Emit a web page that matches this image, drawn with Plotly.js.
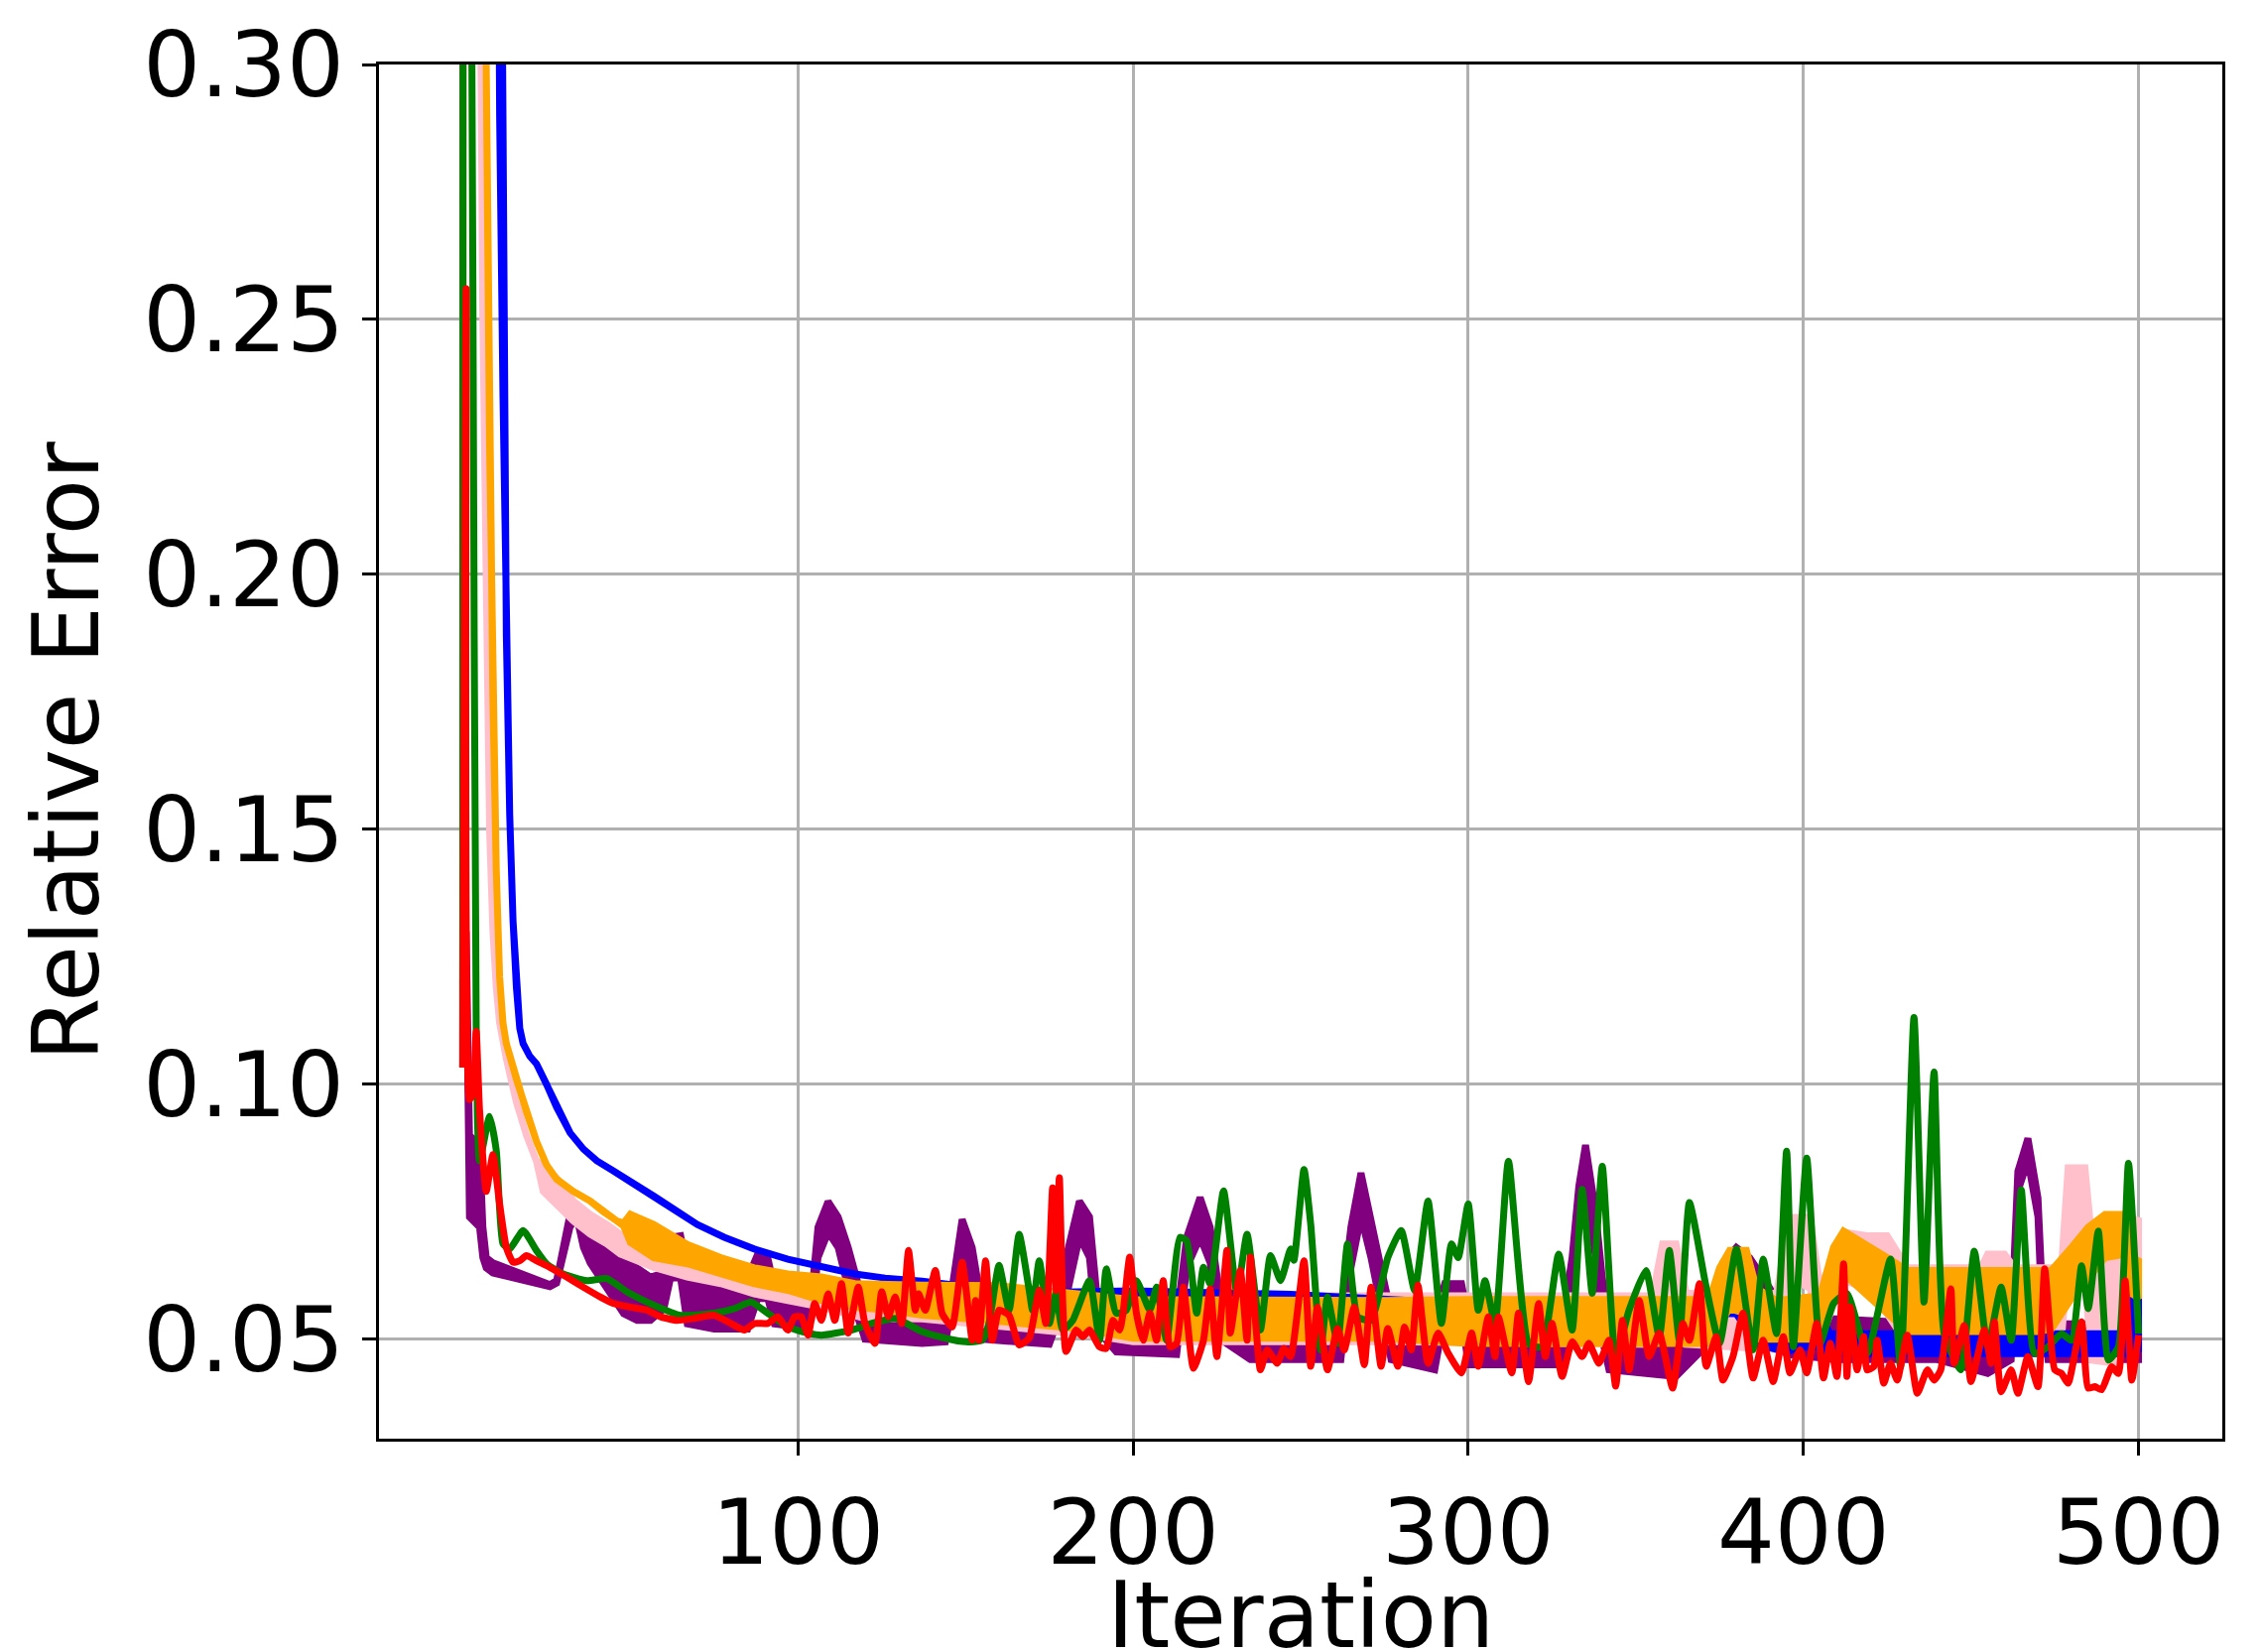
<!DOCTYPE html>
<html>
<head>
<meta charset="utf-8">
<script src="https://cdn.plot.ly/plotly-3.0.1.min.js"></script>
<style>html,body{margin:0;padding:0;background:#fff;}#chart{width:2279px;height:1665px;}</style>
</head>
<body>
<div id="chart"></div>
<script>
// ---- data (iteration, relative error) ----
// Banded series: upper / lower envelope of the per-iteration oscillation
const blueX  = [0,1,5,10,11,12,13,14,15,16,17,18,20,22,25,28,32,36,40,45,51,57,63,70,78,87,97,107,117,126,137,155,175,200,247,300,380,386,395,399,404,408,420,495,497,500];
const blueHi = [0.1033,5.0,1.0,0.36,0.29,0.235,0.188,0.153,0.132,0.119,0.111,0.108,0.1055,0.104,0.100,0.0955,0.0905,0.0873,0.085,0.083,0.0807,0.0781,0.0755,0.0725,0.070,0.0677,0.0657,0.0641,0.0628,0.062,0.0614,0.0600,0.0592,0.0595,0.0588,0.057,0.0565,0.056,0.0515,0.0557,0.0557,0.0511,0.0511,0.0511,0.0576,0.0576];
const blueLo = [0.1033,5.0,1.0,0.36,0.29,0.235,0.188,0.153,0.132,0.119,0.111,0.108,0.1055,0.104,0.100,0.0955,0.0905,0.0873,0.085,0.083,0.0807,0.0781,0.0755,0.0725,0.070,0.0677,0.0657,0.0641,0.0628,0.062,0.0614,0.0600,0.0588,0.0578,0.0575,0.0555,0.055,0.049,0.0475,0.0485,0.0485,0.0472,0.0472,0.0472,0.0472,0.048];

const orangeX  = [0,1,4,6,7,8,9,10,11,12,13,16,19,22,25,28,33,38,42,46,48,50,57,67,77,87,97,107,117,127,137,160,185,200,275,300,372,375,378,383,386,392,405,409,412,417,425,431,470,474,480,485,490,496,498,500];
const orangeHi = [0.1033,3.0,0.8,0.36,0.30,0.225,0.175,0.142,0.121,0.112,0.108,0.101,0.0946,0.0888,0.0842,0.0814,0.079,0.0771,0.075,0.0732,0.0728,0.0745,0.0725,0.0686,0.066,0.064,0.0628,0.0622,0.0609,0.0606,0.0606,0.0605,0.059,0.0578,0.0576,0.0578,0.0578,0.064,0.0674,0.0674,0.060,0.0576,0.0585,0.068,0.0712,0.0693,0.066,0.0635,0.0635,0.0635,0.068,0.072,0.0745,0.0745,0.066,0.0654];
const orangeLo = [0.1033,3.0,0.8,0.36,0.30,0.225,0.175,0.142,0.121,0.112,0.108,0.101,0.0946,0.0888,0.0842,0.0814,0.079,0.0771,0.075,0.0732,0.0722,0.069,0.066,0.0648,0.0628,0.0609,0.0596,0.0576,0.0563,0.0557,0.0547,0.0535,0.052,0.0502,0.0502,0.0492,0.0492,0.053,0.056,0.055,0.050,0.050,0.050,0.058,0.0628,0.060,0.055,0.0515,0.0515,0.052,0.058,0.062,0.066,0.0667,0.059,0.058];

const pinkX  = [0,1,4,5,6,7,8,9,10,11,13,16,19,22,24,28,33,38,43,47,57,67,77,87,97,107,120,137,160,185,200,275,355,358,362,365,392,396,402,405,412,419,425,431,453,455,460,463,477,479,484,486,493,497,500];
const pinkHi = [0.1033,3.0,0.7,0.34,0.25,0.20,0.15,0.13,0.119,0.112,0.105,0.0965,0.090,0.0849,0.0842,0.0816,0.0771,0.0745,0.0725,0.0706,0.0677,0.066,0.064,0.0628,0.0615,0.0596,0.0583,0.058,0.059,0.058,0.0585,0.0585,0.0585,0.0687,0.0687,0.059,0.059,0.0739,0.0739,0.060,0.071,0.0703,0.0703,0.064,0.064,0.0667,0.0667,0.064,0.064,0.0836,0.0836,0.070,0.070,0.070,0.0738];
const pinkLo = [0.1033,3.0,0.7,0.34,0.25,0.20,0.15,0.13,0.119,0.112,0.105,0.0965,0.090,0.0849,0.079,0.0765,0.0732,0.0706,0.0687,0.0667,0.0641,0.0622,0.0609,0.0589,0.0576,0.0563,0.0541,0.054,0.0525,0.051,0.0495,0.0495,0.049,0.058,0.056,0.049,0.048,0.062,0.060,0.050,0.0615,0.060,0.055,0.049,0.049,0.054,0.050,0.048,0.050,0.066,0.062,0.0459,0.0453,0.055,0.060];

const purpleX  = [0,1,2,5,6,7,9,15,22,26,28,30,32,34,36,38,43,48,52,56,60,62,65,67,75,85,88,91,93,100,104,106,109,112,115,118,120,137,144,146,149,152,155,175,180,184,187,189,195,213,216,220,223,226,235,262,265,268,271,274,277,290,293,298,300,328,331,333,335,338,340,342,362,373,376,380,384,390,395,410,440,455,462,464,467,470,471,473,500];
const purpleHi = [0.1033,0.13,0.09,0.088,0.072,0.066,0.065,0.0635,0.0618,0.0607,0.0615,0.068,0.0745,0.0765,0.072,0.070,0.068,0.066,0.064,0.0622,0.063,0.070,0.0703,0.064,0.0635,0.062,0.0667,0.066,0.060,0.059,0.058,0.072,0.077,0.074,0.068,0.060,0.056,0.0557,0.054,0.060,0.0735,0.068,0.056,0.055,0.066,0.0771,0.074,0.060,0.054,0.054,0.070,0.0778,0.072,0.058,0.055,0.055,0.072,0.0826,0.074,0.064,0.055,0.054,0.0609,0.0609,0.054,0.053,0.066,0.080,0.0881,0.075,0.062,0.054,0.053,0.058,0.065,0.068,0.066,0.060,0.054,0.054,0.053,0.050,0.052,0.0829,0.0894,0.0777,0.0635,0.053,0.053];
const purpleLo = [0.1033,0.13,0.074,0.072,0.066,0.064,0.063,0.062,0.061,0.0603,0.061,0.066,0.072,0.074,0.068,0.065,0.060,0.055,0.0537,0.0537,0.056,0.062,0.062,0.053,0.052,0.052,0.058,0.058,0.053,0.0524,0.054,0.066,0.071,0.068,0.060,0.054,0.050,0.0492,0.0495,0.056,0.068,0.060,0.050,0.049,0.058,0.070,0.066,0.052,0.0475,0.047,0.064,0.070,0.065,0.050,0.046,0.046,0.064,0.074,0.066,0.056,0.046,0.044,0.055,0.055,0.045,0.045,0.058,0.072,0.080,0.066,0.050,0.044,0.0427,0.050,0.058,0.062,0.058,0.052,0.047,0.046,0.046,0.0433,0.046,0.079,0.085,0.074,0.058,0.046,0.046];

// Line series
const greenX = [0,1,2,3,4,5,8,10,12,14,18,22,25,30,37,43,49,57,65,75,81,86,91,97,103,107,116,122,129,137,144,150,155,157,160,163,166,169,170,172,175,177,179,182,187,190,192,195,198,201,205,207,210,214,216,219,221,223,227,231,234,238,241,244,247,248,251,253,256,258,261,264,267,271,276,280,284,288,292,295,297,300,303,305,308,312,318,322,327,331,334,337,340,344,348,353,357,360,363,366,371,375,380,385,388,392,395,397,401,405,409,413,419,426,429,433,436,439,442,447,451,455,459,462,465,469,473,477,480,483,485,488,491,494,497,500];
const greenY = [0.1033,3.0,0.42,0.26,0.112,0.085,0.0937,0.087,0.0687,0.0677,0.0713,0.0674,0.0648,0.0628,0.0615,0.0619,0.0593,0.0567,0.0547,0.0551,0.056,0.0573,0.0551,0.0524,0.0512,0.0508,0.0518,0.0531,0.0541,0.0515,0.0502,0.0495,0.0498,0.0531,0.0645,0.0557,0.0706,0.0596,0.0557,0.0654,0.0531,0.059,0.0518,0.0537,0.0615,0.0498,0.0638,0.0551,0.0557,0.0615,0.0557,0.0602,0.0498,0.070,0.0693,0.0551,0.0641,0.0609,0.0791,0.059,0.0706,0.0518,0.0664,0.0615,0.0677,0.0655,0.0833,0.0726,0.0479,0.0583,0.0492,0.0687,0.0544,0.0537,0.066,0.0713,0.0596,0.0771,0.0531,0.0687,0.066,0.0765,0.0557,0.0615,0.0531,0.0849,0.0492,0.0485,0.0667,0.0518,0.0794,0.059,0.0839,0.0466,0.0557,0.0635,0.0505,0.0674,0.0498,0.0768,0.0602,0.0492,0.0677,0.0479,0.0657,0.0511,0.0869,0.0485,0.0855,0.0492,0.057,0.059,0.0472,0.0657,0.0446,0.1131,0.0573,0.1024,0.0511,0.044,0.0673,0.0485,0.0602,0.0498,0.0793,0.0472,0.0485,0.0511,0.0498,0.0644,0.056,0.0712,0.0459,0.0485,0.0845,0.0511];

const redX = [0,1,2,3,4,5,7,9,11,13,15,17,19,22,26,31,36,41,45,50,55,59,64,69,75,80,84,87,91,94,97,99,101,103,105,107,109,111,113,115,118,120,123,125,127,129,131,133,135,136,138,141,143,146,149,152,153,154,156,158,160,163,166,169,172,174,176,177,178,180,183,185,187,190,192,194,196,197,199,201,203,205,207,209,211,213,215,218,221,223,225,228,229,232,234,235,238,240,243,245,247,251,253,255,258,261,263,266,269,271,274,276,279,281,283,285,288,291,294,298,301,303,306,308,309,313,315,318,321,323,325,328,331,334,336,339,342,344,346,348,351,354,357,361,364,366,369,371,374,376,379,382,385,388,391,394,396,399,401,404,406,408,410,412,413,414,416,418,419,421,422,424,426,428,431,434,437,439,441,444,445,448,450,454,456,457,459,462,464,467,470,472,475,477,479,483,485,487,489,492,494,496,498,500];
const redY = [0.1033,0.256,0.097,0.098,0.1104,0.095,0.079,0.0862,0.0765,0.068,
0.0651,0.0654,0.0664,0.0654,0.0641,0.0622,0.0602,0.0583,0.057,0.0563,
0.0557,0.0544,0.0537,0.0541,0.0547,0.0531,0.0518,0.0531,0.0531,0.0544,
0.0518,0.0544,0.0544,0.0508,0.057,0.0537,0.0589,0.0537,0.0609,0.0512,
0.0602,0.0531,0.0492,0.0593,0.0544,0.0583,0.0531,0.0674,0.0557,0.0589,
0.0557,0.0635,0.0551,0.0524,0.0651,0.0498,0.0576,0.0498,0.0654,0.0498,
0.0557,0.0547,0.0489,0.0502,0.0596,0.0531,0.0797,0.0596,0.0817,0.0476,
0.0518,0.0505,0.0518,0.0485,0.0482,0.0537,0.0518,0.0551,0.0661,0.0551,
0.0498,0.0551,0.0498,0.0615,0.0485,0.0492,0.0602,0.0443,0.0498,0.0599,
0.0466,0.0674,0.0512,0.0635,0.0498,0.0661,0.044,0.0479,0.0453,0.0482,
0.0466,0.0654,0.0447,0.0563,0.044,0.0521,0.0479,0.0563,0.045,0.0602,
0.0447,0.0521,0.0447,0.0524,0.0479,0.0606,0.0453,0.0512,0.0473,0.0434,
0.0512,0.0447,0.0544,0.0466,0.0544,0.0434,0.0551,0.0417,0.057,0.0466,
0.0531,0.0427,0.0495,0.0466,0.0492,0.0453,0.0498,0.0408,0.0537,0.044,
0.0576,0.0466,0.0512,0.0404,0.0531,0.0498,0.0609,0.0447,0.0505,0.042,
0.0466,0.0551,0.0424,0.0498,0.0417,0.0505,0.0434,0.0479,0.0434,0.0531,
0.0424,0.0492,0.0427,0.0648,0.0427,0.0563,0.044,0.0505,0.044,0.0446,
0.0498,0.0414,0.0453,0.042,0.0508,0.0394,0.044,0.042,0.044,0.0599,
0.0453,0.0527,0.0417,0.0518,0.0453,0.0534,0.0397,0.044,0.0394,0.0466,
0.0407,0.0638,0.044,0.0433,0.0414,0.0534,0.0404,0.0407,0.0401,0.0446,
0.0433,0.0615,0.042,0.0508];

const xTicks = [100,200,300,400,500];
const yTicks = [0.05,0.10,0.15,0.20,0.25,0.30];
const yTickText = ['0.05','0.10','0.15','0.20','0.25','0.30'];

// ---- drawing ----
const LW = 7;
function band(x, hi, lo, color) {
  return {
    x: x.concat(x.slice().reverse()),
    y: hi.concat(lo.slice().reverse()),
    mode: 'lines', fill: 'toself', fillcolor: color,
    line: {color: color, width: LW},
    hoverinfo: 'skip', showlegend: false
  };
}
function line(x, y, color) {
  return {x: x, y: y, mode: 'lines', line: {color: color, width: LW, shape: 'spline', smoothing: 0.5}, hoverinfo: 'skip', showlegend: false};
}

// drawing order (bottom to top) as seen in the reference overlaps
const traces = [
  band(purpleX, purpleHi, purpleLo, '#800080'),
  band(pinkX, pinkHi, pinkLo, '#ffc0cb'),
  band(blueX, blueHi, blueLo, '#0000ff'),
  band(orangeX, orangeHi, orangeLo, '#ffa500'),
  line(greenX, greenY, '#008000'),
  line(redX, redY, '#ff0000')
];

const FONT = 'DejaVu Sans, Verdana, sans-serif';
const axisCommon = {
  ticks: 'outside', ticklen: 14, tickwidth: 3, tickcolor: '#000',
  showgrid: true, gridcolor: '#b0b0b0', gridwidth: 3,
  showline: true, linecolor: '#000', linewidth: 3, mirror: true,
  zeroline: false, tickfont: {family: FONT, size: 91, color: '#000'},
  fixedrange: true
};

const layout = {
  width: 2279, height: 1665,
  margin: {l: 382, r: 39, t: 65, b: 215, pad: 0},
  paper_bgcolor: '#fff', plot_bgcolor: '#fff',
  showlegend: false,
  xaxis: Object.assign({}, axisCommon, {range: [-25, 525], tickmode: 'array', tickvals: xTicks, ticktext: xTicks.map(String)}),
  yaxis: Object.assign({}, axisCommon, {range: [0.0305, 0.30], tickmode: 'array', tickvals: yTicks, ticktext: yTickText}),
  annotations: [
    {text: 'Iteration', xref: 'paper', yref: 'paper', x: 0.5, y: -0.129, xanchor: 'center', yanchor: 'middle', showarrow: false, font: {family: FONT, size: 92, color: '#000'}},
    {text: 'Relative Error', xref: 'paper', yref: 'paper', x: -0.1695, y: 0.5, xanchor: 'center', yanchor: 'middle', textangle: -90, showarrow: false, font: {family: FONT, size: 92, color: '#000'}}
  ]
};

Plotly.newPlot('chart', traces, layout, {displayModeBar: false, staticPlot: true});
</script>
</body>
</html>
